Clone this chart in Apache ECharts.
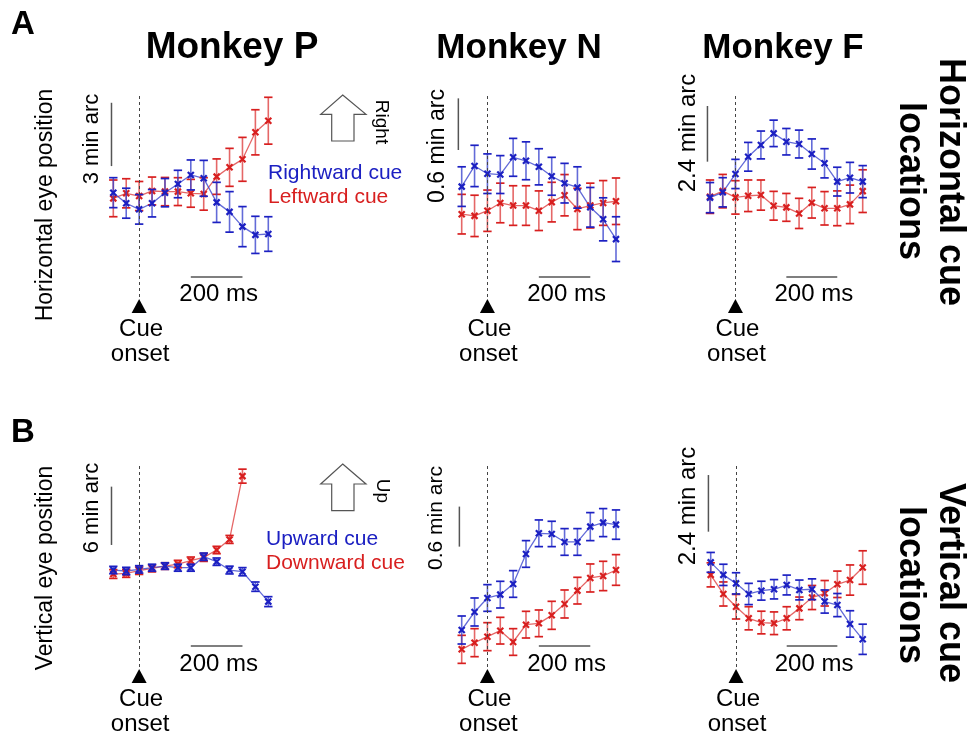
<!DOCTYPE html>
<html>
<head>
<meta charset="utf-8">
<script src="https://cdn.jsdelivr.net/npm/echarts@6.0.0/dist/echarts.min.js"></script>
<style>
  html, body { margin: 0; padding: 0; background: #fff; }
  #chart { width: 968px; height: 735px; }
</style>
</head>
<body>
<div id="chart"></div>
<script>
// Sample times relative to cue onset (ms)
const TIME = [-100, -50, 0, 50, 100, 150, 200, 250, 300, 350, 400, 450, 500];
const TIME_BAR = [200, 400]; // 200 ms scale bar

// Horizontal cue locations: mean eye position (min arc) and s.e.m.
const hP_right_mean = [0.03, -0.47, -0.76, -0.47, 0.03, 0.44, 0.87, 0.71, -0.43, -0.88, -1.58, -1.97, -1.93];
const hP_right_sem  = [0.71, 0.71, 0.70, 0.65, 0.67, 0.65, 0.71, 0.85, 0.95, 0.96, 0.95, 0.88, 0.82];
const hP_left_mean  = [-0.24, 0.00, -0.13, 0.11, 0.08, 0.08, 0.00, -0.03, 0.79, 1.23, 1.61, 2.89, 3.44];
const hP_left_sem   = [0.87, 0.69, 0.69, 0.66, 0.67, 0.66, 0.66, 0.77, 0.84, 0.90, 1.04, 1.07, 1.11];

const hN_right_mean = [0.31, 0.55, 0.46, 0.45, 0.65, 0.61, 0.54, 0.43, 0.35, 0.30, 0.07, -0.07, -0.30];
const hN_right_sem  = [0.23, 0.24, 0.23, 0.22, 0.22, 0.22, 0.21, 0.22, 0.23, 0.24, 0.23, 0.25, 0.26];
const hN_left_mean  = [-0.01, -0.03, 0.03, 0.12, 0.09, 0.09, 0.03, 0.13, 0.21, 0.05, 0.09, 0.12, 0.14];
const hN_left_sem   = [0.23, 0.24, 0.24, 0.23, 0.23, 0.23, 0.23, 0.23, 0.24, 0.24, 0.26, 0.26, 0.27];

const hF_right_mean = [-0.04, 0.19, 0.98, 1.72, 2.23, 2.73, 2.37, 2.27, 1.84, 1.44, 0.65, 0.82, 0.65];
const hF_right_sem  = [0.65, 0.63, 0.63, 0.62, 0.60, 0.57, 0.57, 0.60, 0.65, 0.63, 0.62, 0.66, 0.69];
const hF_left_mean  = [0.00, 0.24, -0.03, 0.04, 0.07, -0.39, -0.46, -0.72, -0.26, -0.50, -0.50, -0.33, 0.24];
const hF_left_sem   = [0.72, 0.72, 0.72, 0.68, 0.65, 0.62, 0.60, 0.65, 0.66, 0.72, 0.75, 0.83, 0.92];

// Vertical cue locations
const vP_up_mean   = [0.17, 0.07, 0.24, 0.41, 0.58, 0.41, 0.41, 1.54, 1.03, 0.17, 0.00, -1.54, -3.08];
const vP_up_sem    = [0.38, 0.38, 0.38, 0.36, 0.34, 0.36, 0.36, 0.38, 0.38, 0.40, 0.42, 0.48, 0.51];
const vP_down_mean = [-0.24, -0.17, 0.10, 0.34, 0.58, 0.79, 1.13, 1.47, 2.23, 3.32, 9.83];
const vP_down_sem  = [0.45, 0.41, 0.38, 0.36, 0.34, 0.38, 0.38, 0.41, 0.38, 0.41, 0.72];

const vN_up_mean   = [0.00, 0.27, 0.48, 0.53, 0.69, 1.14, 1.45, 1.44, 1.32, 1.32, 1.55, 1.61, 1.58];
const vN_up_sem    = [0.21, 0.21, 0.20, 0.20, 0.20, 0.20, 0.20, 0.19, 0.20, 0.20, 0.21, 0.21, 0.22];
const vN_down_mean = [-0.29, -0.19, -0.10, -0.01, -0.18, 0.08, 0.10, 0.22, 0.39, 0.59, 0.78, 0.81, 0.90];
const vN_down_sem  = [0.21, 0.21, 0.21, 0.20, 0.20, 0.20, 0.20, 0.21, 0.21, 0.20, 0.21, 0.22, 0.23];

const vF_up_mean   = [0.04, -0.49, -0.85, -1.30, -1.16, -1.10, -0.92, -1.13, -1.10, -1.62, -1.77, -2.57, -3.22];
const vF_up_sem    = [0.42, 0.45, 0.45, 0.45, 0.40, 0.41, 0.42, 0.42, 0.44, 0.49, 0.49, 0.56, 0.64];
const vF_down_mean = [-0.49, -1.30, -1.84, -2.33, -2.51, -2.54, -2.33, -1.91, -1.45, -1.27, -0.89, -0.71, -0.18];
const vF_down_sem  = [0.51, 0.51, 0.52, 0.49, 0.48, 0.48, 0.49, 0.48, 0.51, 0.54, 0.56, 0.64, 0.71];

// Vertical scale bars: [time, from, to] in min arc
const vbar_hP = [-107, 1.29, 4.29];
const vbar_hN = [-113, 0.735, 1.335];
const vbar_hF = [-110, 1.51, 3.91];
const vbar_vP = [-107, 2.75, 8.75];
const vbar_vN = [-109, 1.25, 1.85];
const vbar_vF = [-109, 1.34, 3.74];

// Texts
const MONKEYS = ['Monkey P', 'Monkey N', 'Monkey F'];
const SCALE_LABELS_H = ['3 min arc', '0.6 min arc', '2.4 min arc'];
const SCALE_LABELS_V = ['6 min arc', '0.6 min arc', '2.4 min arc'];

const FONT = '"Liberation Sans", Arial, Helvetica, sans-serif';
const BLUE = '#1c20c2';
const BLUE_LIGHT = 'rgba(55,65,205,0.78)';
const RED = '#d81f1f';
const RED_LIGHT = 'rgba(222,60,60,0.78)';
const GREY = '#555';

// Panel layout: grid box in pixels plus vertical pixel scale
const panels = [
  { left: 113.3, width: 155, top: 96, bottom: 297, zeroY: 193.3, ppu: 21.1,
    blue: [hP_right_mean, hP_right_sem], red: [hP_left_mean, hP_left_sem], vbar: vbar_hP, barOff: 20, labelFont: 22 },
  { left: 461.7, width: 154.3, top: 96, bottom: 297, zeroY: 213.3, ppu: 86.1,
    blue: [hN_right_mean, hN_right_sem], red: [hN_left_mean, hN_left_sem], vbar: vbar_hN, barOff: 20, labelFont: 23 },
  { left: 710, width: 152.7, top: 96, bottom: 297, zeroY: 196.7, ppu: 23.2,
    blue: [hF_right_mean, hF_right_sem], red: [hF_left_mean, hF_left_sem], vbar: vbar_hF, barOff: 20, labelFont: 24 },
  { left: 113.3, width: 155, top: 463, bottom: 667, zeroY: 571.7, ppu: 9.72,
    blue: [vP_up_mean, vP_up_sem], red: [vP_down_mean, vP_down_sem], vbar: vbar_vP, barOff: 21, labelFont: 22 },
  { left: 461.7, width: 154.3, top: 463, bottom: 667, zeroY: 630, ppu: 66.7,
    blue: [vN_up_mean, vN_up_sem], red: [vN_down_mean, vN_down_sem], vbar: vbar_vN, barOff: 21, labelFont: 21 },
  { left: 710.7, width: 152, top: 463, bottom: 667, zeroY: 563.3, ppu: 23.6,
    blue: [vF_up_mean, vF_up_sem], red: [vF_down_mean, vF_down_sem], vbar: vbar_vF, barOff: 21, labelFont: 24 }
];

// Error bar with caps and an "x" marker at the mean
function errorBarRenderer(color, light) {
  return function (params, api) {
    const t = api.value(0), m = api.value(1), e = api.value(2);
    const c = api.coord([t, m]);
    const hi = api.coord([t, m + e]);
    const lo = api.coord([t, m - e]);
    const cw = 4.2, xs = 3;
    return {
      type: 'group',
      children: [
        { type: 'line', shape: { x1: c[0], y1: hi[1], x2: c[0], y2: lo[1] }, style: { stroke: light, lineWidth: 1.6 } },
        { type: 'line', shape: { x1: c[0] - cw, y1: hi[1], x2: c[0] + cw, y2: hi[1] }, style: { stroke: color, lineWidth: 1.7 } },
        { type: 'line', shape: { x1: c[0] - cw, y1: lo[1], x2: c[0] + cw, y2: lo[1] }, style: { stroke: color, lineWidth: 1.7 } },
        { type: 'line', shape: { x1: c[0] - xs, y1: c[1] - xs, x2: c[0] + xs, y2: c[1] + xs }, style: { stroke: color, lineWidth: 2.2 } },
        { type: 'line', shape: { x1: c[0] - xs, y1: c[1] + xs, x2: c[0] + xs, y2: c[1] - xs }, style: { stroke: color, lineWidth: 2.2 } }
      ]
    };
  };
}

// Vertical amplitude bar and horizontal 200 ms bar
function scaleBarRenderer(offset) {
  return function (params, api) {
    const t = api.value(0), a = api.value(1), b = api.value(2);
    const p1 = api.coord([t, a]), p2 = api.coord([t, b]);
    const q1 = api.coord([api.value(3), 0]), q2 = api.coord([api.value(4), 0]);
    const cs = params.coordSys;
    const yb = cs.y + cs.height - offset;
    return {
      type: 'group',
      children: [
        { type: 'line', shape: { x1: p1[0], y1: p1[1], x2: p2[0], y2: p2[1] }, style: { stroke: GREY, lineWidth: 1.5 } },
        { type: 'line', shape: { x1: q1[0], y1: yb, x2: q2[0], y2: yb }, style: { stroke: GREY, lineWidth: 1.5 } }
      ]
    };
  };
}

const grids = [], xAxes = [], yAxes = [], series = [];
panels.forEach((p, i) => {
  grids.push({ left: p.left, width: p.width, top: p.top, height: p.bottom - p.top, containLabel: false });
  xAxes.push({ type: 'value', gridIndex: i, min: -100, max: 500, show: false });
  yAxes.push({ type: 'value', gridIndex: i, min: (p.zeroY - p.bottom) / p.ppu, max: (p.zeroY - p.top) / p.ppu, show: false });

  const redPts = p.red[0].map((m, k) => [TIME[k], m]);
  const bluePts = p.blue[0].map((m, k) => [TIME[k], m]);
  const redErr = p.red[0].map((m, k) => [TIME[k], m, p.red[1][k]]);
  const blueErr = p.blue[0].map((m, k) => [TIME[k], m, p.blue[1][k]]);

  series.push({
    type: 'line', xAxisIndex: i, yAxisIndex: i, data: redPts, showSymbol: false, silent: true,
    lineStyle: { color: RED_LIGHT, width: 1.3 }, z: 2,
    markLine: {
      symbol: 'none', silent: true, label: { show: false },
      lineStyle: { type: [3, 3], color: '#444', width: 1 },
      data: [{ xAxis: 0 }]
    }
  });
  series.push({
    type: 'line', xAxisIndex: i, yAxisIndex: i, data: bluePts, showSymbol: false, silent: true,
    lineStyle: { color: BLUE_LIGHT, width: 1.3 }, z: 2
  });
  series.push({
    type: 'custom', xAxisIndex: i, yAxisIndex: i, data: redErr, silent: true, z: 3,
    renderItem: errorBarRenderer(RED, RED_LIGHT)
  });
  series.push({
    type: 'custom', xAxisIndex: i, yAxisIndex: i, data: blueErr, silent: true, z: 4,
    renderItem: errorBarRenderer(BLUE, BLUE_LIGHT)
  });
  series.push({
    type: 'custom', xAxisIndex: i, yAxisIndex: i, silent: true, z: 1,
    data: [[p.vbar[0], p.vbar[1], p.vbar[2], TIME_BAR[0], TIME_BAR[1]]],
    renderItem: scaleBarRenderer(p.barOff)
  });
});

const chart = echarts.init(document.getElementById('chart'), null, { renderer: 'canvas' });
chart.setOption({
  animation: false,
  backgroundColor: '#fff',
  grid: grids,
  xAxis: xAxes,
  yAxis: yAxes,
  series: series
});

// Annotations
function txt(text, x, y, size, opts) {
  opts = opts || {};
  return {
    type: 'text', x: x, y: y, rotation: opts.rot || 0, silent: true,
    style: {
      text: text, fontFamily: FONT, fontSize: size, fontWeight: opts.bold ? 'bold' : 'normal',
      fill: opts.color || '#000', align: opts.align || 'center', verticalAlign: 'middle'
    }
  };
}

const g = [];
g.push(txt('A', 23, 25, 33, { bold: true }));
g.push(txt('B', 23, 433, 33, { bold: true }));

const titleX = [232, 519, 783];
const titleSize = [37, 35, 35];
MONKEYS.forEach((m, j) => g.push(txt(m, titleX[j], 48, titleSize[j], { bold: true })));

// Row labels on the right
g.push(txt('Horizontal cue', 950, 182, 36, { bold: true, rot: -Math.PI / 2 }));
g.push(txt('locations', 910, 181, 36, { bold: true, rot: -Math.PI / 2 }));
g.push(txt('Vertical cue', 950, 583, 36, { bold: true, rot: -Math.PI / 2 }));
g.push(txt('locations', 910, 585, 36, { bold: true, rot: -Math.PI / 2 }));

// Y titles
g.push(txt('Horizontal eye position', 46, 205, 23, { rot: Math.PI / 2 }));
g.push(txt('Vertical eye position', 46, 568, 23, { rot: Math.PI / 2 }));

// Scale labels, 200 ms labels and cue-onset markers
const scaleLabelPos = [[92, 139], [438, 146], [688, 133], [92, 508], [436, 518], [688, 506]];
panels.forEach((p, i) => {
  const lab = i < 3 ? SCALE_LABELS_H[i] : SCALE_LABELS_V[i - 3];
  g.push(txt(lab, scaleLabelPos[i][0], scaleLabelPos[i][1], p.labelFont, { rot: Math.PI / 2 }));
  const bx1 = chart.convertToPixel({ xAxisIndex: i }, TIME_BAR[0]);
  const bx2 = chart.convertToPixel({ xAxisIndex: i }, TIME_BAR[1]);
  const rowTop = i < 3;
  g.push(txt('200 ms', (bx1 + bx2) / 2 + 2, rowTop ? 294 : 664, 24));
  const x0 = chart.convertToPixel({ xAxisIndex: i }, 0);
  const ty = rowTop ? 299 : 669;
  g.push({ type: 'polygon', silent: true, shape: { points: [[x0, ty], [x0 + 7.5, ty + 14], [x0 - 7.5, ty + 14]] }, style: { fill: '#000' } });
  g.push(txt('Cue', x0 + 2, ty + 30, 24));
  g.push(txt('onset', x0 + 1, ty + 55, 24));
});

// Legends
g.push(txt('Rightward cue', 268, 173, 21, { align: 'left', color: BLUE }));
g.push(txt('Leftward cue', 268, 197, 21, { align: 'left', color: RED }));
g.push(txt('Upward cue', 266, 539, 21, { align: 'left', color: BLUE }));
g.push(txt('Downward cue', 266, 563, 21, { align: 'left', color: RED }));

// Direction arrows
function arrow(tipY, wingY, baseY) {
  return {
    type: 'polygon', silent: true,
    shape: { points: [[342.7, tipY], [366, wingY], [354, wingY], [354, baseY], [331.7, baseY], [331.7, wingY], [320.7, wingY]] },
    style: { fill: '#fff', stroke: GREY, lineWidth: 1.2 }
  };
}
g.push(arrow(95, 114.3, 141));
g.push(txt('Right', 381, 122, 19, { rot: -Math.PI / 2 }));
g.push(arrow(464, 484, 510.7));
g.push(txt('Up', 382, 491, 19, { rot: -Math.PI / 2 }));

chart.setOption({ graphic: { elements: g } });
</script>
</body>
</html>
